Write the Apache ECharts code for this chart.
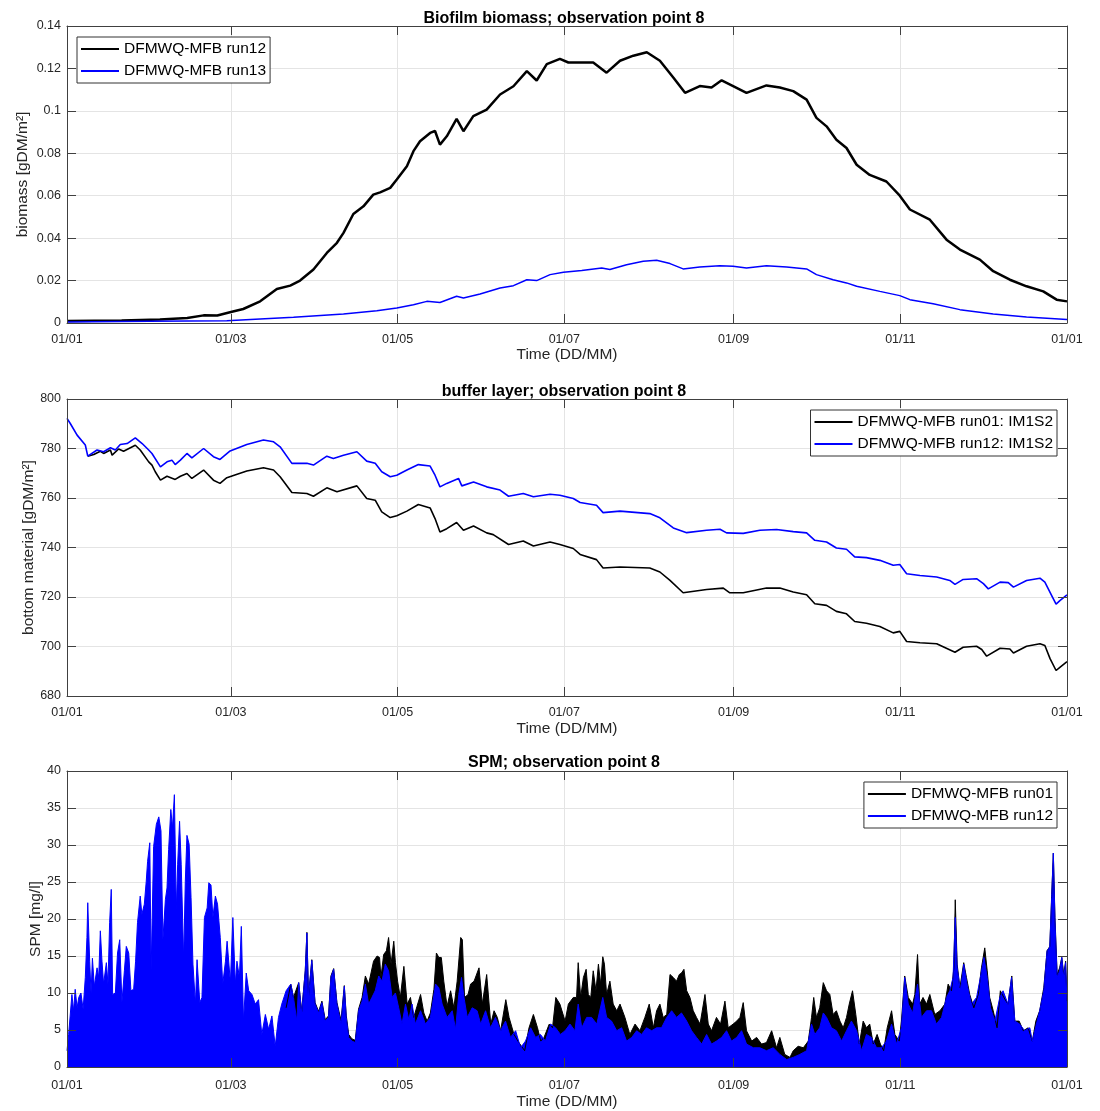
<!DOCTYPE html>
<html>
<head>
<meta charset="utf-8">
<script src="https://cdn.jsdelivr.net/npm/echarts@6/dist/echarts.min.js"></script>
<style>html,body{margin:0;padding:0;background:#fff}#c{width:1100px;height:1111px}</style>
</head>
<body>
<div id="c"></div>
<script>
// x values are day-of-year (leap year 2020, 01/01 -> 0, next 01/01 -> 366)
const tickLabels = ['01/01','01/03','01/05','01/07','01/09','01/11','01/01'];
const tickMonths = [0,2,4,6,8,10,12];
const tickDays = tickMonths.map(m => (Date.UTC(2020,m,1)-Date.UTC(2020,0,1))/864e5);

const titles = ['Biofilm biomass; observation point 8','buffer layer; observation point 8','SPM; observation point 8'];
const yNames = ['biomass [gDM/m\u00b2]','bottom material [gDM/m\u00b2]','SPM [mg/l]'];
const xName = 'Time (DD/MM)';

// Biofilm biomass [gDM/m2]
const bioRun12 = [[0,0.001],[20,0.0012],[34,0.0016],[44,0.0024],[50,0.0036],[55,0.0035],[60,0.0052],[64.5,0.0066],[70.7,0.0102],[76.8,0.016],[81.7,0.0176],[85.3,0.020],[90.2,0.0252],[95.1,0.033],[98.8,0.0378],[101.2,0.0425],[104.8,0.0514],[108.5,0.055],[112.1,0.0605],[114.6,0.0616],[118.3,0.0637],[120.7,0.0676],[124.4,0.0739],[126.8,0.081],[129.2,0.0857],[132.9,0.0896],[134.7,0.0905],[136.5,0.0841],[139,0.088],[142.6,0.0962],[145.1,0.0904],[148.7,0.0975],[153.6,0.1006],[158.5,0.1077],[163.4,0.1116],[168.3,0.1187],[171.9,0.1143],[175.6,0.122],[180.4,0.1245],[183.5,0.1228],[186.5,0.1228],[192.6,0.1228],[197.5,0.118],[202.4,0.1236],[207.3,0.126],[212.2,0.1276],[217,0.1236],[221.9,0.1157],[226.2,0.1085],[231.6,0.1117],[235.9,0.111],[239.6,0.1144],[243.8,0.1117],[248.7,0.1085],[256,0.112],[260.9,0.111],[265.8,0.1093],[270.7,0.1053],[274.3,0.0967],[278,0.0927],[281.6,0.0864],[285.3,0.0825],[289,0.0746],[293.8,0.0698],[299.9,0.0667],[304.8,0.06],[308.5,0.0535],[315.8,0.0487],[321.9,0.0393],[326.8,0.0346],[334.1,0.0299],[339,0.0244],[345.1,0.0204],[351.2,0.0173],[357.3,0.0149],[362.2,0.011],[366,0.0102]];
const bioRun13 = [[0,0.0005],[30,0.0008],[58.5,0.0011],[82.9,0.0027],[101.2,0.0042],[113.4,0.0058],[120.7,0.0071],[126.8,0.0086],[131.7,0.0102],[136.5,0.0097],[142.6,0.0126],[145.1,0.0118],[151.2,0.0137],[158.5,0.0165],[163.4,0.0176],[168.3,0.0204],[171.9,0.02],[176.8,0.0228],[181.7,0.0239],[188.4,0.0248],[195.7,0.0259],[198.7,0.0252],[204.8,0.0275],[210.9,0.0291],[215.8,0.0296],[220.7,0.028],[225.5,0.0255],[231.6,0.0264],[238.9,0.027],[243.8,0.0267],[248.7,0.0259],[256,0.027],[263.4,0.0264],[270.7,0.0255],[274.3,0.0228],[280.4,0.0204],[285.3,0.0189],[289,0.0173],[297.5,0.0149],[304.8,0.0129],[308.5,0.011],[317,0.0091],[326.8,0.0063],[339,0.0042],[351.2,0.0028],[366,0.0016]];

// Buffer layer bottom material [gDM/m2]
const bufRun01 = [[7.6,776.9],[9.8,777.6],[12.2,778.9],[13.4,778],[15.9,779.4],[16.5,777.3],[18.9,779.8],[20.7,778.9],[25,781.3],[26.8,779.4],[29.9,774.6],[31.1,773.3],[32.3,770.6],[34.2,767.2],[36.6,768.8],[39.6,767.5],[41.5,768.8],[43.9,769.9],[45.7,767.9],[50,771.3],[53.6,767.2],[56,765.9],[58.5,768.2],[65.8,770.9],[71.9,772.2],[75.6,771.3],[78,768.6],[82.3,762.2],[87.8,761.8],[90.2,760.7],[95.1,764.1],[98.8,762.5],[106.1,764.9],[109.7,759.8],[112.8,759.1],[115.2,754.4],[118.3,752.1],[120.7,752.8],[124.4,754.7],[128.6,757.4],[132.9,756],[134.7,751.7],[136.5,746.3],[139,747.6],[142.6,750.1],[145.1,747],[148.8,748.7],[153.6,745.9],[156,745.2],[161.6,741.2],[167,742.6],[170.7,740.6],[176.8,742.2],[180.4,741.2],[185.3,739.6],[187.8,737.2],[193.8,735.1],[196.2,731.7],[202.4,732.1],[213.3,731.7],[217,730.1],[220.7,726.7],[225.5,721.7],[234.1,723],[240.2,723.6],[242.6,721.7],[247.5,721.7],[256,723.6],[260.9,723.6],[265.8,722],[270.7,720.9],[273.7,717.3],[278,716.6],[281.6,714.2],[285.3,713.2],[288.3,710.1],[292.6,709.4],[297.5,708.1],[302.4,705.5],[304.8,706.1],[307.3,702],[312.2,701.5],[318.3,701.1],[325,697.7],[328,699.7],[332.9,700.1],[334.8,698.8],[336.6,696.1],[341.5,699.3],[345.1,699],[346.4,697.4],[351.2,700.1],[356.1,701.1],[357.9,700.4],[359.8,695.1],[362,690.3],[363.5,691.7],[366,693.9]];
const bufRun12 = [[0,792.2],[1.2,790.1],[3.7,785.4],[6.7,781.4],[7.6,776.9],[11,779.4],[13.4,778.7],[15.9,780.3],[17.7,779.4],[19.5,781.6],[22,782],[25,784.3],[27.5,782],[29.9,779.4],[31.1,778],[31.7,778.4],[34.2,772.6],[36.6,774.6],[38.4,775.3],[39.6,773.5],[41.5,775.3],[43.9,778],[45.7,776.2],[50,780],[53.6,776.7],[56,775.6],[59.7,779],[65.8,781.6],[71.9,783.4],[75.6,782.7],[78,780.7],[82.3,774],[87.8,774],[90.2,773.3],[95.1,776.9],[97.5,776],[101.2,777.3],[106.1,778.7],[109.7,774.9],[112.8,774],[115.2,770.6],[118.3,768.6],[120.7,769.2],[124.4,771.3],[128.6,773.5],[132.9,772.9],[134.7,769.2],[136.5,764.5],[139,765.9],[143.3,767.9],[144.5,764.9],[148.8,766.5],[153.6,764.5],[158.5,763.2],[161.6,760.7],[167,761.8],[170.7,760.5],[176.8,761.5],[180.4,761.1],[185.3,759.8],[187.8,758.2],[193.8,757.1],[196.2,754.1],[202.4,754.7],[213.3,753.7],[217,752],[221.9,747.9],[226.8,746],[234.1,747],[239,747.4],[241.4,745.9],[247.5,745.7],[253.6,747],[259.7,747.3],[265.8,746.4],[270.7,745.9],[273.7,742.9],[278,742.2],[281.6,739.8],[285.3,739.3],[288.3,736.2],[292.6,735.9],[297.5,734.8],[302.4,732.8],[304.8,733.1],[307.3,729.4],[312.2,728.7],[318.3,728.1],[323.1,726.7],[325,725.1],[328,727.1],[332.9,727.4],[335.4,725.4],[337.2,723.3],[341.5,726],[344.5,725.8],[346.4,724],[351.2,726.7],[356.1,727.6],[357.9,726],[360.4,720.6],[362,717.1],[363.5,718.6],[366,720.9]];

// SPM [mg/l] - upper envelope of the tidal signal
const spmRun01 = [[80.2,8],[81.9,11.2],[82.9,9.4],[84.8,11.4],[85.9,7.5],[87.2,13],[87.8,18.2],[88.4,9.6],[89.6,14.5],[90.8,8.7],[92.1,7.5],[93.3,8.9],[94.5,6.4],[95.7,6.9],[96.6,12.3],[97.6,13.3],[98.8,8.7],[100.3,6.3],[101.5,11],[102.2,7],[103.1,4.4],[104.3,3.8],[105.5,3.6],[106.7,7.8],[108,9.4],[109.2,12.3],[110.4,11.2],[112.2,14.3],[113.5,15],[114.4,14.8],[114.9,12.1],[115.9,15.2],[116.9,15.7],[117.7,17.5],[118.6,13.9],[119.6,17],[120.2,14.1],[121,11.6],[122,9.4],[123.3,13.6],[124.5,8.5],[125.7,9.4],[126.9,6.7],[128.1,8.2],[129.4,9.8],[130.6,7.3],[131.8,6.2],[133,7.3],[134.3,10.5],[135.2,15.4],[136.1,14.8],[137,14.8],[137.9,11.6],[139.1,8.2],[140.4,10.3],[141.6,8],[142.8,11.6],[144.1,17.5],[144.7,17.2],[145.5,9.4],[146.8,9.8],[147.7,11.2],[149,11.6],[150.8,13.4],[152,8.5],[153.6,12.5],[155.1,5.8],[156.3,7.6],[157.5,6.7],[158.7,4.9],[160.6,9.1],[161.8,6.7],[163.6,4.4],[165.4,3.3],[167.5,2.2],[169.1,5.3],[170.7,7.1],[172.2,5.3],[173.4,3.5],[174.6,4],[176.5,5.8],[177.7,5.3],[178.9,9.4],[180.4,8.5],[182.3,6.2],[183.5,8.5],[185.3,9.4],[186.5,9.4],[187.1,14.1],[188,9.4],[189,12.1],[190,13.2],[190.8,9.8],[191.7,9.4],[192.6,13],[193.6,10.3],[194.5,13.9],[195.3,11.2],[196.1,14.9],[196.7,13.9],[197.5,9.8],[198.7,11.6],[199.9,8.5],[201.2,7.6],[202.4,8.5],[204.2,6.7],[206,4.4],[207.9,5.8],[209.7,4.9],[211.5,6.7],[213.1,8.5],[214.6,5.3],[215.8,7.6],[217,8.5],[218.2,6.7],[219.5,7.1],[220.7,12.5],[221.9,12.1],[223.1,11.6],[224.1,12.5],[224.9,12.7],[225.8,13.2],[226.8,10.3],[228,9.4],[229.2,7.6],[230.4,6.7],[231.7,5.8],[233.5,9.8],[234.7,5.8],[235.9,4.9],[237.7,6.7],[239.2,5.8],[240.8,8.9],[242,5.3],[243.8,5.8],[245.1,6.2],[246.3,6.7],[247.5,8.7],[248.7,4.9],[250.6,3.5],[252.4,4],[254.2,3.1],[256,3.3],[257.9,4.9],[259.7,2.6],[260.9,4],[262.7,1.7],[264.6,1.3],[265.8,2.2],[267.6,2.8],[269.5,2.6],[271.3,3.5],[272.5,6.7],[273.3,9.4],[274.3,6.7],[275.5,8],[276.8,11.4],[278,10.3],[279.2,9.8],[280.4,7.1],[281.6,7.6],[282.9,6.2],[284.1,5.3],[285.3,6.7],[286.3,8.5],[287.5,10.3],[288.7,7.1],[290,3.1],[291.4,6.2],[292.6,5.3],[293.8,5.8],[295.1,3.1],[296.5,4.4],[297.7,3.1],[298.9,2.2],[300.2,5.3],[301.8,7.6],[303,4.4],[304.6,3.5],[305.4,6.2],[306.6,12.3],[307.9,9.4],[309.5,8.5],[310.3,9.8],[311.3,15.2],[312.1,8.5],[313.3,9.4],[314.6,8.5],[315.8,9.8],[317.6,7.1],[319.5,7.6],[321.3,8.5],[322.5,11.2],[323.7,10.3],[324.6,13.4],[325.1,22.6],[325.8,13.9],[326.8,10.7],[328.2,14.1],[329.2,12.1],[330.4,9.8],[331.9,8],[333.5,9.8],[334.7,13.4],[335.9,16.1],[336.8,13],[337.7,9.4],[339,7.6],[340.4,5.3],[341.6,10.3],[342.9,9.4],[344.4,8.5],[345.8,12.3],[346.9,6.2],[348.5,6.2],[350,4.9],[351.8,5.3],[353.3,3.5],[354.6,6.2],[356,7.6],[357.5,10.7],[358.7,15.7],[359.7,16.3],[360.4,23.3],[361,28.9],[361.6,20.2],[362.4,12.5],[363.3,13.4],[364.1,14.8],[364.8,12.5],[365.5,14.3],[366,8.9]];
const spmRun12 = [[0,2.2],[0.6,4.4],[1.8,9.8],[2.4,7.6],[3,10.5],[3.7,8],[4.3,9.4],[5.1,10],[5.9,7.8],[6.7,12.1],[7.3,17.5],[7.6,22.2],[8.3,14.3],[8.8,10],[9.3,14.7],[10,10.9],[11,13.4],[11.6,12.1],[12.2,18.4],[12.8,14.3],[13.4,11.2],[14.4,14.1],[15,11.2],[15.6,19.5],[16.2,24],[16.7,9.8],[17.7,10],[18.5,15.4],[19.3,17.2],[20.1,8.7],[21,13],[21.7,16.3],[22.6,15.4],[23.4,10.3],[24.4,10.5],[25.1,14.3],[25.8,19.5],[26.8,23.1],[27.4,20.6],[28.3,22],[29,25.1],[29.5,27.8],[30.3,30.3],[30.8,13],[31.7,29.8],[32.7,32.8],[33.6,33.8],[34.4,31.9],[35.1,17.2],[36,22.6],[36.6,24.2],[37.2,29.4],[38,34.8],[38.6,32.3],[39.3,36.8],[40,21.1],[40.5,27.4],[41.2,33.2],[41.8,27.4],[42.7,14.5],[43.3,25.1],[43.9,31.3],[44.7,30.1],[45.4,22.9],[46.1,13.9],[47,8.5],[47.6,14.5],[48.6,8.7],[49.4,9.4],[50.3,20.2],[51.3,21.5],[51.9,24.9],[52.7,24.6],[53.4,20.2],[54.3,23.1],[55.1,22],[56.1,17.5],[57,11.2],[58,14.3],[58.6,17],[59.8,11.4],[60.7,20.2],[61.6,11.2],[62.2,14.3],[63.1,12.1],[63.8,19],[64.6,6.2],[65.6,12.7],[66.5,10.3],[67.7,9.8],[68.9,8.5],[70.1,9.1],[71.3,4.4],[72.6,7.1],[73.8,5.1],[75,6.9],[76.2,2.8],[77.4,6.7],[78.6,8.5],[80.2,10.3],[81.9,11.2],[82.9,9.4],[84.1,6.2],[84.8,11.4],[85.9,7.3],[87.2,13],[87.8,18.1],[88.4,9.4],[89.6,14.4],[90.8,8.5],[92.1,7.3],[93.3,8.7],[94.5,6.2],[95.7,6.7],[96.6,12.1],[97.6,13.2],[98.8,8.5],[100.3,5.8],[101.5,10.9],[102.2,6.7],[103.1,4],[104.3,3.5],[105.5,3.3],[106.7,7.6],[108,8.9],[109.2,11.2],[110.4,8.5],[111.6,9.4],[112.8,10.3],[114.1,12.3],[115.3,11.6],[116.5,13.9],[117.7,13],[119,9.4],[120.2,10],[121.4,8],[122.6,5.8],[123.9,8.5],[125.1,6.4],[126.3,8.5],[127.5,5.8],[129.4,7.6],[131.2,5.8],[133,6.7],[134.9,11.2],[136.1,10.7],[137.3,8.5],[139.1,6.7],[141,7.6],[142.2,5.1],[143.4,9.8],[144.4,12.1],[145.3,9.4],[146.5,6.7],[148.3,8],[150.1,7.6],[151.4,5.8],[153.2,7.6],[155,5.3],[156.8,6.7],[158.7,4.9],[160.5,6.2],[162.3,4],[164.2,4.9],[166,2.6],[167.8,3.5],[169.7,5.3],[171.5,4],[173.3,4.4],[175.1,3.5],[177,5.8],[178.8,5.3],[180.6,4.4],[182.3,4.9],[184.1,5.8],[185.9,4.9],[187.1,8.5],[188.4,5.3],[190.2,6.7],[192,6.7],[193.9,5.8],[196.1,9.4],[197.5,6.7],[199.3,6.2],[201.2,4.9],[203,5.3],[204.8,3.5],[206.7,4],[208.5,4.9],[210.3,4.4],[212.1,5.3],[214,4.9],[215.8,5.3],[217.6,5.3],[219.5,6.7],[221.3,7.6],[223.1,6.7],[224.9,7.3],[226.8,6.2],[228.6,4.9],[230.4,4],[232.3,3.1],[234.1,4.4],[235.9,3.1],[237.7,3.5],[239.6,4],[241.4,4.9],[243.2,3.5],[245.1,4],[246.9,4.9],[248.7,3.1],[251.2,2.6],[253.6,2.6],[256,2.2],[258.5,2.6],[260.9,1.7],[263.4,1],[265.8,1.3],[268.2,1.7],[270.7,2.2],[272.5,5.8],[273.7,4.4],[275.5,5.3],[276.8,7.3],[278,6.7],[279.8,5.3],[281.6,4.9],[283.5,3.5],[285.3,4.9],[287.1,6.2],[289,4.9],[290.8,2.2],[292.6,4.4],[294.4,4],[296.3,2.6],[298.1,2.6],[299.9,3.5],[301.8,5.8],[303.6,3.1],[305.4,5.3],[306.6,12.1],[307.9,8.5],[309.5,7.3],[311.3,11.2],[312.7,6.7],[314.6,7.6],[316.4,7.6],[318.2,5.8],[320.1,6.7],[321.9,9.4],[323.1,10.3],[324.3,12.1],[325.1,20.2],[325.8,13.4],[327,10.3],[328.2,13.9],[329.4,11.2],[331,8.5],[332.9,9.4],[334.3,12.1],[335.6,14.8],[336.8,12.1],[338,8],[339.6,6.2],[341.4,9.4],[342.6,10.3],[344.4,8.5],[345.7,12.1],[346.9,6.2],[348.7,5.8],[350.5,4.9],[352.4,5.3],[353.3,3.5],[354.8,5.8],[356,7.6],[357.5,10.3],[358.7,15.7],[359.7,16.2],[360.4,22.9],[361,28.9],[361.6,19.7],[362.4,12.1],[363.3,13],[364.1,14.8],[364.8,12.1],[365.5,14.1],[366,8.5]];

const FONT = 'Liberation Sans, Arial, sans-serif';
const AX = '#404040';
const TXT = '#262626';
const GRIDC = '#e4e4e4';
const grids = [{top:26,h:297},{top:399,h:297},{top:771,h:297}];
const yRanges = [{min:0,max:0.14,interval:0.02},{min:680,max:800,interval:20},{min:0,max:40,interval:5}];
const yNameGaps = [36, 30, 23];
const xLabelMargins = [10, 10, 12];
const xNameGaps = [24, 25, 27];
const titleTops = [11, 384, 755];

const xFmt = v => { const i = tickDays.indexOf(Math.round(v)); return i >= 0 ? tickLabels[i] : ''; };

const option = {
  animation: false,
  backgroundColor: '#fff',
  textStyle: {fontFamily: FONT},
  title: titles.map((t, i) => ({text: t, left: 564, textAlign: 'center', top: titleTops[i], padding: 0,
    textStyle: {fontSize: 16, fontWeight: 'bold', color: '#000', fontFamily: FONT}})),
  grid: grids.map(g => ({left: 67, width: 1000, top: g.top, height: g.h, containLabel: false})),
  xAxis: [],
  yAxis: [],
  legend: [
    {orient:'vertical', left:77, top:37, data:['DFMWQ-MFB run12','DFMWQ-MFB run13']},
    {orient:'vertical', right:43, top:410, data:['DFMWQ-MFB run01: IM1S2','DFMWQ-MFB run12: IM1S2']},
    {orient:'vertical', right:43, top:782, data:['SPM run01','SPM run12'],
      formatter: n => ({'SPM run01':'DFMWQ-MFB run01','SPM run12':'DFMWQ-MFB run12'})[n]}
  ].map(l => Object.assign({z:10, backgroundColor:'#fff', borderColor:'#333', borderWidth:1, padding:[3,4,3,4],
      icon:'rect', itemWidth:38, itemHeight:2, itemGap:4, itemTextGap:4, selectedMode:false,
      textStyle:{fontSize:15.5, lineHeight:18, color:'#000', fontFamily:FONT}}, l)),
  series: []
};

for (let i = 0; i < 3; i++) {
  const r = yRanges[i];
  // x axes: [main bottom, top frame, grid-line only]
  option.xAxis.push({type:'value', gridIndex:i, min:0, max:366, position:'bottom', z:5,
    axisLine:{onZero:false, lineStyle:{color:AX, width:1}},
    axisTick:{inside:true, length:9, customValues:tickDays, lineStyle:{color:AX}},
    axisLabel:{customValues:tickDays, formatter:xFmt, color:TXT, fontSize:12.5, margin:xLabelMargins[i], fontFamily:FONT},
    splitLine:{show:false},
    name:xName, nameLocation:'middle', nameGap:xNameGaps[i], nameTextStyle:{fontSize:15.5, color:TXT, fontFamily:FONT}});
  option.xAxis.push({type:'value', gridIndex:i, min:0, max:366, position:'top', z:5,
    axisLine:{onZero:false, lineStyle:{color:AX, width:1}},
    axisTick:{inside:true, length:9, customValues:tickDays, lineStyle:{color:AX}},
    axisLabel:{show:false}, splitLine:{show:false}});
  option.xAxis.push({type:'value', gridIndex:i, min:0, max:366, position:'bottom', z:0,
    axisLine:{show:false, onZero:false}, axisTick:{show:false, customValues:tickDays},
    axisLabel:{show:false, customValues:tickDays},
    splitLine:{show:true, lineStyle:{color:GRIDC, width:1}}});
  // y axes: [main left, right frame, grid-line only]
  option.yAxis.push({type:'value', gridIndex:i, min:r.min, max:r.max, interval:r.interval, position:'left', z:5,
    axisLine:{show:true, onZero:false, lineStyle:{color:AX, width:1}},
    axisTick:{show:true, inside:true, length:9, lineStyle:{color:AX}},
    axisLabel:{color:TXT, fontSize:12.5, margin:6, fontFamily:FONT},
    splitLine:{show:false},
    name:yNames[i], nameLocation:'middle', nameGap:yNameGaps[i], nameRotate:90, nameMoveOverlap:false,
    nameTextStyle:{fontSize:15.5, color:TXT, fontFamily:FONT}});
  option.yAxis.push({type:'value', gridIndex:i, min:r.min, max:r.max, interval:r.interval, position:'right', z:5,
    axisLine:{show:true, onZero:false, lineStyle:{color:AX, width:1}},
    axisTick:{show:true, inside:true, length:9, lineStyle:{color:AX}},
    axisLabel:{show:false}, splitLine:{show:false}});
  option.yAxis.push({type:'value', gridIndex:i, min:r.min, max:r.max, interval:r.interval, position:'left', z:0,
    axisLine:{show:false, onZero:false}, axisTick:{show:false}, axisLabel:{show:false},
    splitLine:{show:true, lineStyle:{color:GRIDC, width:1}}});
}

function lineS(name, data, color, w, gi) {
  return {name, type:'line', data, xAxisIndex: gi*3, yAxisIndex: gi*3, symbol:'none', showSymbol:false,
    lineStyle:{color, width:w}, itemStyle:{color}, z: 3};
}
option.series.push(lineS('DFMWQ-MFB run12', bioRun12, '#000000', 2.5, 0));
option.series.push(lineS('DFMWQ-MFB run13', bioRun13, '#0000ff', 1.5, 0));
option.series.push(lineS('DFMWQ-MFB run01: IM1S2', bufRun01, '#000000', 1.6, 1));
option.series.push(lineS('DFMWQ-MFB run12: IM1S2', bufRun12, '#0000ff', 1.6, 1));
const a1 = lineS('SPM run01', spmRun01, '#000000', 1, 2); a1.areaStyle = {color:'#000000', opacity:1};
const a2 = lineS('SPM run12', spmRun12, '#0000ff', 1, 2); a2.areaStyle = {color:'#0000ff', opacity:1};
option.series.push(a1, a2);

const chart = echarts.init(document.getElementById('c'), null, {renderer:'canvas'});
chart.setOption(option);
</script>
</body>
</html>
